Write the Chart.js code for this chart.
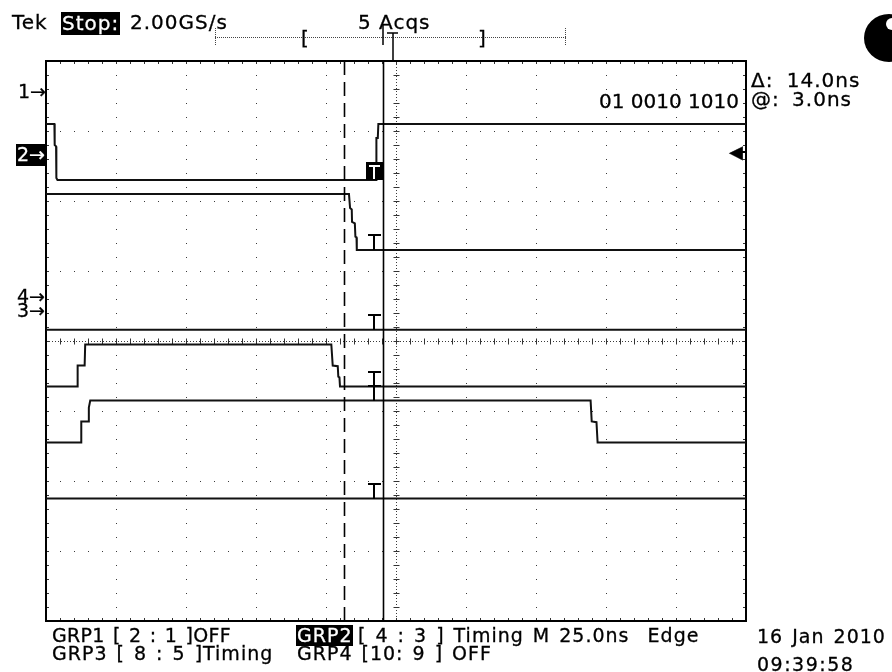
<!DOCTYPE html>
<html>
<head>
<meta charset="utf-8">
<script src="https://cdn.jsdelivr.net/npm/chart.js@4.4.1/dist/chart.umd.min.js"></script>
<style>
    html, body { margin: 0; padding: 0; background: #fff; }
    #wrap { position: relative; width: 892px; height: 672px; overflow: hidden; background: #fff; }
    #scope { position: absolute; left: 0; top: 0; }
    .t { position: absolute; white-space: pre; color: #000; line-height: 1; -webkit-text-stroke: 0.3px #000;
         font-family: "DejaVu Sans", sans-serif; font-size: 20px; letter-spacing: 1px; }
    .c { font-size: 19px; letter-spacing: 1px; word-spacing: 2px; }
    .inv { background: #000; color: #fff; -webkit-text-stroke: 0.3px #fff; }
    #blob { position: absolute; left: 864px; top: 14px; width: 50px; height: 48px; border-radius: 50%; background: #000; }
    #blob::after { content: ""; position: absolute; left: 22px; top: 4px; width: 12px; height: 12px; border-radius: 50%; background: #fff; }
    #trig { position: absolute; left: 739px; top: 151px; width: 8px; height: 2px; background: #000; }
</style>
</head>
<body>
<div id="wrap">
    <canvas id="scope" width="892" height="672"></canvas>

    <div class="t" style="left:12px; top:12px;">Tek</div>
    <div class="t inv" style="left:61px; top:12px; padding:1px 1px 2px 1px;">Stop:</div>
    <div class="t" style="left:130px; top:12px;">2.00GS/s</div>
    <div class="t" style="left:358px; top:12px;">5 Acqs</div>
    <div class="t" style="left:301px; top:28px;">[</div>
    <div class="t" style="left:478px; top:28px;">]</div>
    <div id="blob"></div>

    <div class="t" style="left:18px; top:82px; font-size:19px; letter-spacing:0;">1→</div>
    <div class="t inv" style="left:16px; top:144px; font-size:19px; letter-spacing:0; padding:1px 1px 2px 1px;">2→</div>
    <div class="t" style="left:17px; top:287px; font-size:19px; letter-spacing:0;">4→</div>
    <div class="t" style="left:17px; top:301px; font-size:19px; letter-spacing:0;">3→</div>
    <div class="t" style="left:729px; top:143px; font-size:18px;">◀</div>
    <div id="trig"></div>

    <div class="t" style="left:751px; top:70px; word-spacing:6px;">Δ: 14.0ns</div>
    <div class="t" style="left:751px; top:89px; word-spacing:5px;">@: 3.0ns</div>
    <div class="t" style="left:599px; top:91px; letter-spacing:0;">01 0010 1010</div>

    <div class="t c" style="left:52px; top:626px; letter-spacing:0.3px;">GRP1 [ 2 : 1 ]OFF</div>
    <div class="t c inv" style="left:296px; top:625px; padding:1px 1px 1px 1px;">GRP2</div>
    <div class="t c" style="left:358px; top:626px;">[ 4 : 3 ] Timing M 25.0ns  Edge</div>
    <div class="t c" style="left:52px; top:644px;">GRP3 [ 8 : 5 ]Timing</div>
    <div class="t c" style="left:297px; top:644px;">GRP4 [10: 9 ] OFF</div>
    <div class="t c" style="left:757px; top:627px;">16 Jan 2010</div>
    <div class="t c" style="left:757px; top:655px; letter-spacing:1.5px;">09:39:58</div>
</div>

<script>
// time in ns across the screen (M 25.0ns/div, 10 div), level in divisions from the top (8 div)
const timeRange = [0, 250];
const divRange = [0, 8];

const ch1Time = [0, 3.0, 3.1, 3.6, 3.7, 4.1, 117.9, 118.0, 118.5, 118.7, 250];
const ch1Level = [0.90, 0.90, 1.20, 1.22, 1.67, 1.70, 1.70, 1.10, 1.10, 0.90, 0.90];

const ch2Time = [0, 108.2, 108.6, 109.2, 109.3, 110.3, 110.5, 110.9, 111.0, 250];
const ch2Level = [1.90, 1.90, 2.10, 2.12, 2.30, 2.32, 2.51, 2.52, 2.70, 2.70];

const ch3Time = [0, 250];
const ch3Level = [3.84, 3.84];

const ch4Time = [0, 11.2, 11.3, 13.8, 14.0, 101.9, 102.4, 104.2, 104.4, 104.8, 105.0, 250];
const ch4Level = [4.65, 4.65, 4.35, 4.35, 4.05, 4.05, 4.35, 4.36, 4.51, 4.52, 4.65, 4.65];

const ch5Time = [0, 12.5, 12.6, 15.0, 15.3, 15.8, 194.5, 194.9, 196.6, 197.0, 250];
const ch5Level = [5.45, 5.45, 5.15, 5.15, 4.95, 4.85, 4.85, 5.15, 5.16, 5.45, 5.45];

const ch6Time = [0, 250];
const ch6Level = [6.25, 6.25];

// cursors (dashed, solid) and trigger "T" markers
const cursorTimes = [106.4, 120.5];
const markerTime = 117.25;
const markerLevels = [1.70, 2.70, 3.84, 4.65, 4.85, 6.25];

const toPoints = (ts, ys) => ts.map((t, i) => ({x: t, y: ys[i]}));

const traces = [
    [ch1Time, ch1Level],
    [ch2Time, ch2Level],
    [ch3Time, ch3Level],
    [ch4Time, ch4Level],
    [ch5Time, ch5Level],
    [ch6Time, ch6Level],
];

const scopeDecor = {
    id: 'scopeDecor',
    beforeDatasetsDraw(chart) {
        const {ctx, scales: {x, y}} = chart;
        const l = x.getPixelForValue(timeRange[0]);
        const r = x.getPixelForValue(timeRange[1]);
        const t = y.getPixelForValue(divRange[0]);
        const b = y.getPixelForValue(divRange[1]);
        const cx = Math.round(x.getPixelForValue(125)) + 0.5;
        const cy = Math.round(y.getPixelForValue(4)) + 0.5;

        ctx.save();
        ctx.strokeStyle = '#333';
        ctx.lineWidth = 1;
        ctx.beginPath();
        // minor ticks on frame and center lines, 5 per division
        for (let v = 0; v <= 250; v += 5) {
            const px = Math.round(x.getPixelForValue(v)) + 0.5;
            ctx.moveTo(px, t); ctx.lineTo(px, t + 3);
            ctx.moveTo(px, b); ctx.lineTo(px, b - 3);
            ctx.moveTo(px, cy - 3); ctx.lineTo(px, cy + 3);
        }
        for (let v = 0; v <= 8.001; v += 0.2) {
            const py = Math.round(y.getPixelForValue(v)) + 0.5;
            ctx.moveTo(l, py); ctx.lineTo(l + 3, py);
            ctx.moveTo(r, py); ctx.lineTo(r - 3, py);
            ctx.moveTo(cx - 3, py); ctx.lineTo(cx + 3, py);
        }
        ctx.stroke();

        ctx.strokeStyle = '#000';
        ctx.lineWidth = 2;
        ctx.strokeRect(l, t, r - l, b - t);
        ctx.restore();
    },
    afterDatasetsDraw(chart) {
        const {ctx, scales: {x, y}} = chart;
        const t = y.getPixelForValue(divRange[0]);
        const b = y.getPixelForValue(divRange[1]);

        ctx.save();
        ctx.strokeStyle = '#000';
        ctx.lineWidth = 1.6;
        cursorTimes.forEach((c, i) => {
            const px = Math.round(x.getPixelForValue(c)) + 0.5;
            ctx.setLineDash(i === 0 ? [14, 7] : []);
            ctx.beginPath();
            ctx.moveTo(px, t);
            ctx.lineTo(px, b);
            ctx.stroke();
        });
        ctx.setLineDash([]);

        const mx = Math.round(x.getPixelForValue(markerTime));
        markerLevels.forEach((lv, i) => {
            const py = Math.round(y.getPixelForValue(lv));
            ctx.fillStyle = '#000';
            if (i === 0) {
                ctx.fillRect(mx - 8, py - 18, 17, 18);
                ctx.fillStyle = '#fff';
                ctx.fillRect(mx - 5, py - 15, 11, 2);
                ctx.fillRect(mx - 1, py - 15, 2, 14);
            } else {
                ctx.fillRect(mx - 6, py - 16, 13, 2);
                ctx.fillRect(mx - 1, py - 16, 2, 16);
            }
        });

        // record view bar above the graticule
        ctx.strokeStyle = '#444';
        ctx.lineWidth = 1;
        ctx.setLineDash([1, 1]);
        ctx.beginPath();
        ctx.moveTo(215, 37.5); ctx.lineTo(566, 37.5);
        ctx.moveTo(215.5, 28); ctx.lineTo(215.5, 46);
        ctx.moveTo(565.5, 28); ctx.lineTo(565.5, 46);
        ctx.stroke();
        ctx.setLineDash([]);
        ctx.strokeStyle = '#000';
        ctx.lineWidth = 1.5;
        ctx.beginPath();
        ctx.moveTo(383, 25); ctx.lineTo(383, 45);
        ctx.moveTo(393, 33); ctx.lineTo(393, 61);
        ctx.moveTo(387, 33); ctx.lineTo(398, 33);
        ctx.stroke();
        ctx.restore();
    }
};

new Chart(document.getElementById('scope'), {
    type: 'line',
    data: {
        datasets: traces.map(([ts, ys]) => ({
            data: toPoints(ts, ys),
            borderColor: '#111',
            borderWidth: 2,
            pointRadius: 0,
            tension: 0,
            fill: false,
        })),
    },
    options: {
        responsive: false,
        animation: false,
        devicePixelRatio: 1,
        layout: {
            padding: {left: 46, top: 61, right: 146, bottom: 51},
        },
        plugins: {
            legend: {display: false},
            tooltip: {enabled: false},
        },
        scales: {
            x: {
                type: 'linear',
                min: timeRange[0],
                max: timeRange[1],
                ticks: {display: false, stepSize: 25},
                grid: {color: '#3a3a3a', lineWidth: 1, drawTicks: false},
                border: {display: false, dash: c => (c.tick && c.tick.value === 125) ? [1, 2] : [1, 13]},
            },
            y: {
                type: 'linear',
                reverse: true,
                min: divRange[0],
                max: divRange[1],
                ticks: {display: false, stepSize: 1},
                grid: {color: '#3a3a3a', lineWidth: 1, drawTicks: false},
                border: {display: false, dash: c => (c.tick && c.tick.value === 4) ? [1, 2] : [1, 13]},
            },
        },
    },
    plugins: [scopeDecor],
});
</script>
</body>
</html>
